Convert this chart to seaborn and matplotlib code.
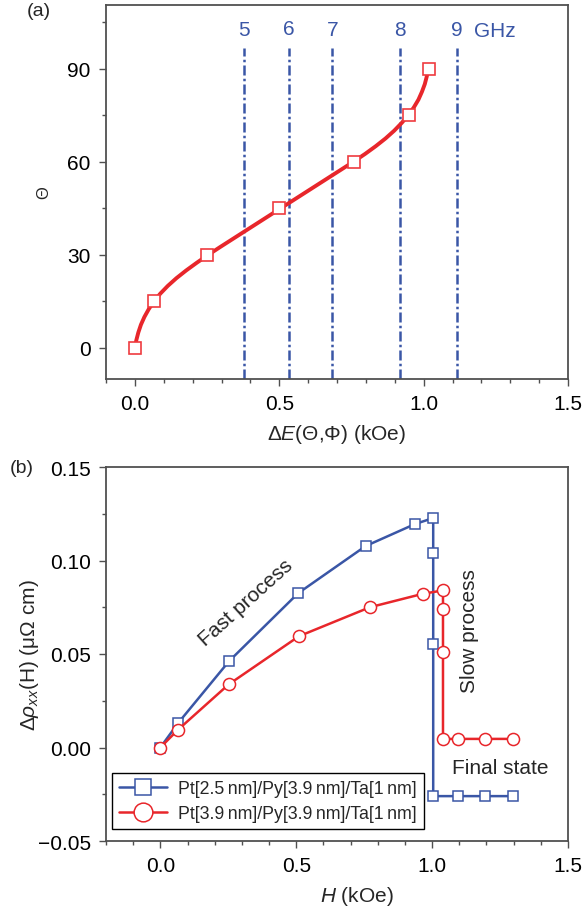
import numpy as np
import pandas as pd
import matplotlib
matplotlib.use("Agg")
import matplotlib.pyplot as plt
from matplotlib.ticker import MultipleLocator
import seaborn as sns

# ---------------- data ----------------
# panel (a): smooth curve and marked points
theta_curve = [0, 2.5, 5, 7.5, 10, 12.5, 15, 17.5, 20, 22.5, 25, 27.5, 30, 32.5, 35, 37.5,
               40, 42.5, 45, 47.5, 50, 52.5, 55, 57.5, 60, 62.5, 65, 67.5, 70, 72.5, 75,
               77.5, 80, 82.5, 85, 87.5, 90]
dE_curve = [0, 0.005, 0.012, 0.021, 0.033, 0.048, 0.066, 0.088, 0.114, 0.144, 0.178, 0.215,
            0.254, 0.295, 0.337, 0.379, 0.421, 0.463, 0.505, 0.547, 0.589, 0.631, 0.673,
            0.715, 0.757, 0.797, 0.834, 0.868, 0.898, 0.924, 0.947, 0.966, 0.982, 0.994,
            1.004, 1.011, 1.016]
theta_pts = [0, 15, 30, 45, 60, 75, 90]
dE_pts = [0, 0.066, 0.25, 0.5, 0.76, 0.948, 1.017]
freq_labels = ["5", "6", "7", "8", "9"]
freq_pos = [0.379, 0.533, 0.684, 0.917, 1.116]

# panel (b)
H_a = [0, 0.065, 0.253, 0.507, 0.755, 0.937, 1.004, 1.004, 1.004, 1.004, 1.096, 1.196, 1.298]
rho_a = [0, 0.013, 0.0462, 0.0825, 0.1077, 0.1195, 0.1227, 0.104, 0.0553, -0.026, -0.026, -0.026, -0.026]
H_b = [0, 0.065, 0.251, 0.510, 0.771, 0.966, 1.040, 1.040, 1.040, 1.040, 1.096, 1.196, 1.298]
rho_b = [0, 0.0095, 0.0337, 0.0595, 0.075, 0.0822, 0.084, 0.0742, 0.051, 0.0046, 0.0046, 0.0046, 0.0046]
label_a = "Pt[2.5\u2009nm]/Py[3.9\u2009nm]/Ta[1\u2009nm]"
label_b = "Pt[3.9\u2009nm]/Py[3.9\u2009nm]/Ta[1\u2009nm]"

# ---------------- style ----------------
sns.set_theme(style="ticks")
plt.rcParams["font.family"] = ["Liberation Sans", "DejaVu Sans"]
plt.rcParams["mathtext.fontset"] = "custom"
plt.rcParams["mathtext.rm"] = "Liberation Sans"
plt.rcParams["mathtext.it"] = "Liberation Sans:italic"
plt.rcParams["mathtext.bf"] = "Liberation Sans:bold"

RED = "#e8262b"
RED_M = "#ef3b3f"
BLUE = "#3a56a6"
SPINE = "#505050"
FS = 15

fig = plt.figure(figsize=(5.83, 9.12), dpi=100)
ax1 = fig.add_axes([106 / 583, 1 - 380 / 912, 462 / 583, 374 / 912])
ax2 = fig.add_axes([106 / 583, 1 - 842 / 912, 462 / 583, 374 / 912])

def style_axes(ax):
    for s in ax.spines.values():
        s.set_color(SPINE)
        s.set_linewidth(1.3)
    ax.tick_params(which="major", direction="out", length=5, width=1, color=SPINE,
                   labelsize=FS, labelcolor="black", pad=6, top=False, right=False)
    ax.tick_params(which="minor", direction="out", length=3, width=1, color=SPINE,
                   top=False, right=False)
    ax.grid(False)

# ---------------- panel (a) ----------------
df_curve = pd.DataFrame({"dE": dE_curve, "theta": theta_curve})
df_pts = pd.DataFrame({"dE": dE_pts, "theta": theta_pts})
for xv in freq_pos:
    ax1.vlines(xv, -10, 96.5, colors=BLUE, linewidth=1.8,
               linestyles=(0, (4, 1.3, 1, 1.3)), zorder=1)
sns.lineplot(data=df_curve, x="dE", y="theta", ax=ax1, color=RED, linewidth=2.8,
             estimator=None, sort=False, zorder=3)
sns.lineplot(data=df_pts, x="dE", y="theta", ax=ax1, linewidth=0, marker="s",
             markersize=8, markerfacecolor="white", markeredgecolor=RED_M,
             markeredgewidth=1.2, estimator=None, sort=False, zorder=4)
for lab, xv in zip(freq_labels, freq_pos):
    ax1.text(xv, 102.5 if lab != "6" else 103, lab, color=BLUE, fontsize=FS,
             ha="center", va="center")
ax1.text(1.247, 102.3, "GHz", color=BLUE, fontsize=FS, ha="center", va="center")
ax1.set_xlim(-0.1, 1.5)
ax1.set_ylim(-10, 110.5)
ax1.xaxis.set_major_locator(MultipleLocator(0.5))
ax1.xaxis.set_minor_locator(MultipleLocator(0.1))
ax1.yaxis.set_major_locator(MultipleLocator(30))
ax1.yaxis.set_minor_locator(MultipleLocator(15))
ax1.xaxis.set_major_formatter(matplotlib.ticker.FormatStrFormatter("%.1f"))
style_axes(ax1)
ax1.set_xlabel("Δ$E$(Θ,Φ) (kOe)", fontsize=FS)
ax1.set_ylabel("Θ", fontsize=12)
ax1.xaxis.set_label_coords(0.5, -0.115)
ax1.yaxis.set_label_coords(-0.118, 0.5)

# ---------------- panel (b) ----------------
df_a = pd.DataFrame({"H": H_a, "rho": rho_a})
df_b = pd.DataFrame({"H": H_b, "rho": rho_b})
sns.lineplot(data=df_a, x="H", y="rho", ax=ax2, color=BLUE, linewidth=1.8,
             marker="s", markersize=7.5, markerfacecolor="white",
             markeredgecolor=BLUE, markeredgewidth=1.1,
             estimator=None, sort=False, label=label_a, zorder=3)
sns.lineplot(data=df_b, x="H", y="rho", ax=ax2, color=RED, linewidth=1.8,
             marker="o", markersize=8.7, markerfacecolor="white",
             markeredgecolor=RED, markeredgewidth=1.1,
             estimator=None, sort=False, label=label_b, zorder=4)
ax2.set_xlim(-0.2, 1.5)
ax2.set_ylim(-0.05, 0.15)
ax2.xaxis.set_major_locator(MultipleLocator(0.5))
ax2.xaxis.set_minor_locator(MultipleLocator(0.1))
ax2.yaxis.set_major_locator(MultipleLocator(0.05))
ax2.yaxis.set_minor_locator(MultipleLocator(0.025))
ax2.xaxis.set_major_formatter(matplotlib.ticker.FormatStrFormatter("%.1f"))
ax2.yaxis.set_major_formatter(matplotlib.ticker.FuncFormatter(
    lambda v, p: ("\u2212" if v < -1e-9 else "") + "%.2f" % abs(v)))
style_axes(ax2)
ax2.set_xlabel("$H$ (kOe)", fontsize=FS)
ax2.set_ylabel(r"$\Delta\rho_{xx}$(H) (μΩ cm)", fontsize=FS)
ax2.xaxis.set_label_coords(0.543, -0.115)
ax2.yaxis.set_label_coords(-0.14, 0.5)

ax2.text(0.315, 0.0777, "Fast process", fontsize=FS, rotation=42,
         ha="center", va="center", rotation_mode="anchor")
ax2.text(1.138, 0.0626, "Slow process", fontsize=FS, rotation=90,
         ha="center", va="center")
ax2.text(1.249, -0.0105, "Final state", fontsize=FS, ha="center", va="center")

leg = ax2.legend(loc="lower left", bbox_to_anchor=(0.013, 0.032), borderaxespad=0,
                 fontsize=12.8, markerscale=1.55, handlelength=2.7, frameon=True,
                 fancybox=False, edgecolor="black", framealpha=1,
                 borderpad=0.4, labelspacing=0.42, handletextpad=0.6)
leg.get_frame().set_linewidth(1.0)

fig.text(39 / 583, 1 - 12 / 912, "(a)", fontsize=14, ha="center", va="center")
fig.text(22 / 583, 1 - 469 / 912, "(b)", fontsize=14, ha="center", va="center")

fig.savefig("out.png", dpi=100)
